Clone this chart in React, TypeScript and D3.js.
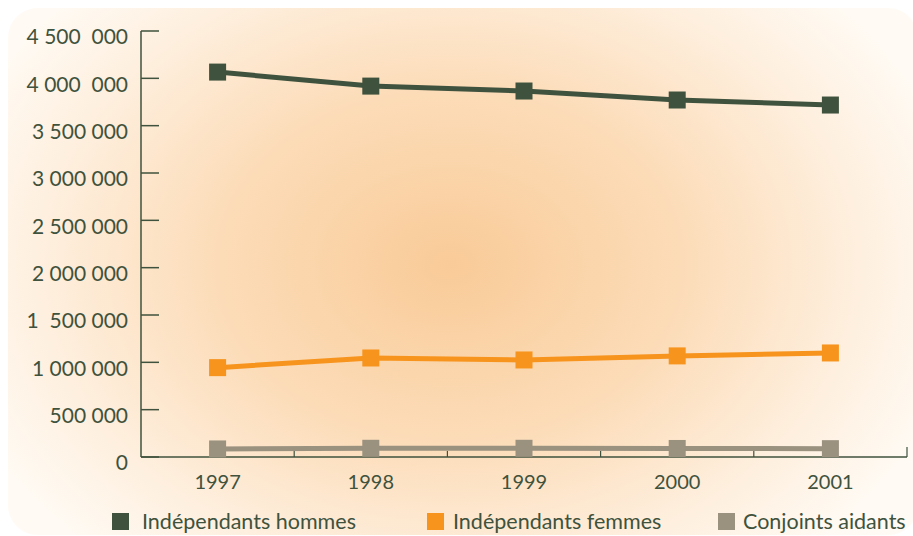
import React from "react";
import * as d3 from "d3";

const years = ["1997", "1998", "1999", "2000", "2001"];
const hommes = [4066000, 3918000, 3866000, 3771000, 3718000];
const femmes = [944000, 1046000, 1025000, 1068000, 1099000];
const conjoints = [85000, 92000, 92000, 90000, 88000];
const yTicks = [0, 500000, 1000000, 1500000, 2000000, 2500000, 3000000, 3500000, 4000000, 4500000];
const yTickLabels = ["0", "500 000", "1 000 000", "1  500 000", "2 000 000", "2 500 000", "3 000 000", "3 500 000", "4 000  000", "4 500  000"];
const seriesNames = ["Indépendants hommes", "Indépendants femmes", "Conjoints aidants"];
const seriesColors = ["#3f523d", "#f7941d", "#9a917f"];

const W = 913;
const H = 536;
const left = 141;
const right = 907;
const top0 = 31;
const bottom = 457;
const font = "'Lato', 'Open Sans', sans-serif";
const textColor = "#3f523d";

export default function App() {
  const x = d3.scaleBand().domain(years).range([left, right]);
  const y = d3.scaleLinear().domain([0, 4500000]).range([bottom, top0]);
  const line = d3
    .line<number>()
    .x((_, i) => (x(years[i]) as number) + x.bandwidth() / 2)
    .y((d) => y(d));
  const allSeries = [hommes, femmes, conjoints];
  const legendX = [112, 427, 718];
  const legendTextX = [142, 453, 743];
  const drawOrder = [2, 1, 0];

  return (
    <svg
      width={W}
      height={H}
      style={{ position: "absolute", left: 0, top: 0, display: "block" }}
    >
      <defs>
        <radialGradient id="bg" cx="450" cy="265" r="520" gradientUnits="userSpaceOnUse" gradientTransform="translate(450 265) scale(1 0.75) translate(-450 -265)">
          <stop offset="0" stopColor="#f9cb98" />
          <stop offset="0.45" stopColor="#fcdcb8" />
          <stop offset="0.8" stopColor="#fef0e0" />
          <stop offset="1" stopColor="#fffaf3" />
        </radialGradient>
        <clipPath id="clip">
          <rect x={0} y={0} width={911} height={H} />
        </clipPath>
      </defs>
      <rect x={8} y={8} width={910} height={527} rx={30} ry={30} fill="url(#bg)" />

      {/* y axis */}
      <line x1={left} x2={left} y1={top0} y2={bottom} stroke={textColor} strokeWidth={1.5} />
      {yTicks.map((t, i) => (
        <g key={t}>
          <line x1={left} x2={left + 18} y1={y(t)} y2={y(t)} stroke={textColor} strokeWidth={1.5} />
          <text
            x={128}
            y={y(t) + 6}
            dy="0.35em"
            textAnchor="end"
            fontFamily={font}
            fontSize={21}
            fill={textColor}
            style={{ whiteSpace: "pre" }}
          >
            {yTickLabels[i]}
          </text>
        </g>
      ))}

      {/* x axis */}
      <line x1={left} x2={right} y1={bottom} y2={bottom} stroke={textColor} strokeWidth={1.5} />
      {years.map((yr, i) => (
        <g key={yr}>
          <line
            x1={(x(yr) as number) + x.bandwidth()}
            x2={(x(yr) as number) + x.bandwidth()}
            y1={bottom}
            y2={i === years.length - 1 ? bottom - 10 : bottom - 6}
            stroke={textColor}
            strokeWidth={1.2}
          />
          <text
            x={(x(yr) as number) + x.bandwidth() / 2}
            y={482}
            dy="0.35em"
            textAnchor="middle"
            fontFamily={font}
            fontSize={20}
            fill={textColor}
          >
            {yr}
          </text>
        </g>
      ))}

      {/* series */}
      {drawOrder.map((s) => (
        <g key={s}>
          <path d={line(allSeries[s]) as string} fill="none" stroke={seriesColors[s]} strokeWidth={5} />
          {allSeries[s].map((v, i) => (
            <rect
              key={i}
              x={(x(years[i]) as number) + x.bandwidth() / 2 - 8.5}
              y={y(v) - 8.5}
              width={17}
              height={17}
              fill={seriesColors[s]}
            />
          ))}
        </g>
      ))}

      {/* legend */}
      <g clipPath="url(#clip)">
        {seriesNames.map((n, i) => (
          <g key={n}>
            <rect x={legendX[i]} y={513} width={17} height={17} fill={seriesColors[i]} />
            <text
              x={legendTextX[i]}
              y={521.5}
              dy="0.35em"
              fontFamily={font}
              fontSize={21.5}
              fill={textColor}
            >
              {n}
            </text>
          </g>
        ))}
      </g>
    </svg>
  );
}
